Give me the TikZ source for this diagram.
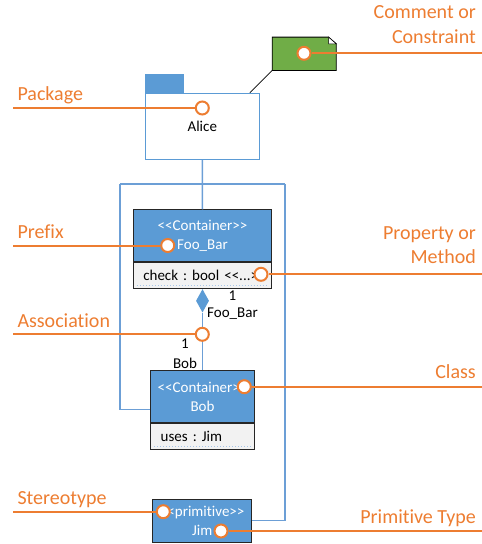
\documentclass[tikz,border=0pt]{standalone}
\usepackage{fontspec}
\setmainfont{Carlito}[Ligatures={NoCommon, NoContextual}]
\usepackage{tikz}
\usetikzlibrary{positioning, shapes}
\frenchspacing

\definecolor{callorange}{HTML}{ED7D31}
\definecolor{umlblue}{HTML}{5B9BD5}
\definecolor{linkblue}{HTML}{6C9FD6}
\definecolor{notegreen}{HTML}{70AD47}
\definecolor{compgray}{HTML}{F2F2F2}

\newcommand\stlt{<\kern0pt<}
\newcommand\stgt{>\kern0pt>}

\tikzset{
  lbl/.style={text=callorange, font=\fontsize{20}{24.5}\selectfont, inner sep=0pt},
  callout/.style={draw=callorange, line width=2pt},
  dot/.style={circle, draw=callorange, fill=white, line width=2pt, minimum size=13pt, inner sep=0pt},
  link/.style={draw=linkblue, line width=1.5pt},
  head/.style={rectangle, draw=black!85, fill=umlblue, text=white, align=center, font=\fontsize{15}{19.5}\selectfont, line width=0.8pt},
  comp/.style={rectangle, draw=black!85, fill=compgray, font=\fontsize{15}{18}\selectfont, line width=0.8pt, align=left, inner xsep=10pt},
  mult/.style={font=\fontsize{15}{18}\selectfont, inner sep=0pt}
}

\begin{document}
\begin{tikzpicture}[x=1pt, y=-1pt]
\useasboundingbox (0,0) rectangle (482,544);
% package
\node[rectangle, draw=umlblue, line width=1.2pt, fill=white, minimum width=114pt, minimum height=66pt, font=\fontsize{15}{18}\selectfont] (alice) at (202.3,126.3) {Alice};
\draw[fill=umlblue, draw=umlblue] (alice.north west) rectangle ++(38,-19);
% comment
\node[minimum width=63.7pt, minimum height=33pt, inner sep=0pt] (note) at (304.2,53.8) {};
\draw[fill=notegreen, draw=black, line width=0.8pt] (note.south west) -- (note.north west) -- ([xshift=-7.7pt]note.north east) -- ([yshift=-6.7pt]note.north east) -- (note.south east) -- cycle;
\draw[fill=white, draw=black, line width=0.6pt] ([xshift=-7.7pt]note.north east) -- ([xshift=-7.7pt, yshift=-6.7pt]note.north east) -- ([yshift=-6.7pt]note.north east) -- cycle;
\draw[line width=0.8pt] (note.south west) -- ([xshift=-10pt]alice.north east);
% classes
\node[head, minimum width=138.4pt, minimum height=52pt] (foohead) at (202.5,235.7) {\stlt Container\stgt\\Foo\_Bar};
\node[comp, text width=118.4pt, minimum height=26pt, below=0pt of foohead] (foocomp) {\mbox{check : bool \stlt.\kern0pt.\kern0pt.\stgt}};
\draw[linkblue!60, dotted, line width=1pt] ([xshift=4pt, yshift=3.5pt]foocomp.south west) -- ([xshift=-4pt, yshift=3.5pt]foocomp.south east);
\node[head, minimum width=103.6pt, minimum height=52pt] (bobhead) at (202.5,396.7) {\stlt Container\stgt\\Bob};
\node[comp, text width=83.6pt, minimum height=26.3pt, below=0pt of bobhead] (bobcomp) {\mbox{uses : Jim}};
\draw[linkblue!60, dotted, line width=1pt] ([xshift=4pt, yshift=3.5pt]bobcomp.south west) -- ([xshift=-4pt, yshift=3.5pt]bobcomp.south east);
\node[head, minimum width=99pt, minimum height=42.7pt] (jim) at (202.2,520.7) {\stlt primitive\stgt\\Jim};
% links
\draw[link] (alice.south) -- (foohead.north);
\coordinate (fl) at (120,184);
\coordinate (fr) at (285,184);
\draw[link] (fl) -- (fr);
\draw[link] (fl) |- ([yshift=13.4pt]bobhead.south west);
\draw[link] (fr) |- (jim.east);
% association
\node[diamond, fill=umlblue, inner sep=0pt, minimum width=13pt, minimum height=23.4pt, below=0pt of foocomp] (dia) {};
\draw[link] (dia.south) -- (bobhead.north);
\node[mult] (m1) at (232.3,295.7) {1};
\node[mult] (mfoo) at (232.5,313.3) {Foo\_Bar};
\node[mult] (m2) at (185,344) {1};
\node[mult] (mbob) at (185,363.3) {Bob};
% markers
\node[dot] (cnote) at (304,53.3) {};
\node[dot] (cpkg) at (202.3,108) {};
\node[dot] (cpre) at (167.7,245.5) {};
\node[dot] (cprop) at (261,274.3) {};
\node[dot] (cassoc) at (202.3,334.3) {};
\node[dot] (cclass) at (244.3,386.7) {};
\node[dot] (cster) at (163.3,511.7) {};
\node[dot] (cprim) at (221,531) {};
% links 1.
\coordinate (epkg) at (13,108);
\coordinate (epre) at (13,245.5);
\coordinate (eassoc) at (13,334.3);
\coordinate (ester) at (13,511.7);
\node[lbl, anchor=base west] (lpkg) at (17.3,100.5) {Package};
\node[lbl, anchor=base west] (lpre) at (17.3,238) {Prefix};
\node[lbl, anchor=base west] (lassoc) at (17.3,327.5) {Association};
\node[lbl, anchor=base west] (lster) at (17.3,504.5) {Stereotype};
\draw[callout] (epkg) -- (cpkg);
\draw[callout] (epre) -- (cpre);
\draw[callout] (eassoc) -- (cassoc);
\draw[callout] (ester) -- (cster);
% rechts 1.
\coordinate (enote) at (482,53.3);
\coordinate (eprop) at (482,274.3);
\coordinate (eclass) at (482,386.7);
\coordinate (eprim) at (482,531);
\node[lbl, anchor=base east, align=right] (lnote) at (476,43.2) {Comment or\\Constraint};
\node[lbl, anchor=base east, align=right] (lprop) at (476,263.8) {Property or\\Method};
\node[lbl, anchor=base east] (lclass) at (476,378.5) {Class};
\node[lbl, anchor=base east] (lprim) at (476,523) {Primitive Type};
\draw[callout] (cnote) -- (enote);
\draw[callout] (cprop) -- (eprop);
\draw[callout] (cclass) -- (eclass);
\draw[callout] (cprim) -- (eprim);
\end{tikzpicture}
\end{document}
